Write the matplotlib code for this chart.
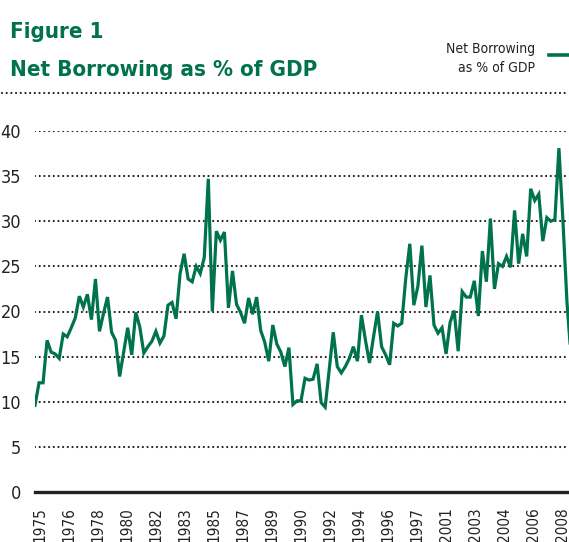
import numpy as np
import matplotlib
matplotlib.use('Agg')
import matplotlib.pyplot as plt
from matplotlib.lines import Line2D

# quarterly net borrowing, % of GDP
values = [9.6, 12.1, 12.1, 16.8, 15.5, 15.3, 14.8, 17.5, 17.2, 18.2,
          19.3, 21.7, 20.5, 21.9, 19.1, 23.6, 17.8, 19.8, 21.6, 17.7,
          16.8, 12.8, 15.5, 18.2, 15.2, 19.9, 18.3, 15.4, 16.1, 16.7,
          17.8, 16.5, 17.3, 20.7, 21.0, 19.2, 24.2, 26.4, 23.6, 23.3,
          25.0, 24.2, 26.0, 34.7, 20.0, 28.9, 27.9, 28.8, 20.4, 24.5,
          20.8, 19.9, 18.7, 21.5, 19.7, 21.6, 17.9, 16.6, 14.5, 18.5,
          16.4, 15.5, 13.9, 16.0, 9.7, 10.1, 10.1, 12.6, 12.4, 12.5,
          14.2, 9.9, 9.4, 13.5, 17.7, 13.9, 13.2, 13.9, 14.8, 16.1,
          14.5, 19.6, 16.8, 14.3, 17.2, 20.0, 16.1, 15.2, 14.1, 18.7,
          18.4, 18.7, 23.7, 27.5, 20.7, 22.8, 27.3, 20.5, 24.0, 18.5,
          17.6, 18.2, 15.3, 18.8, 20.1, 15.6, 22.2, 21.6, 21.6, 23.4,
          19.5, 26.7, 23.3, 30.3, 22.5, 25.3, 25.0, 26.1, 24.9, 31.2,
          25.3, 28.6, 26.1, 33.6, 32.3, 33.0, 27.8, 30.4, 30.0, 30.2,
          38.1, 30.0, 21.0, 15.0]
year_labels = ['1975', '1976', '1978', '1980', '1982', '1983', '1985', '1987',
               '1989', '1990', '1992', '1994', '1996', '1997', '2001', '2003',
               '2004', '2006', '2008']
y_ticks = [0, 5, 10, 15, 20, 25, 30, 35, 40]

green = '#00724e'
dark = '#222222'
plt.rcParams['font.family'] = ['DejaVu Sans']
plt.rcParams['font.stretch'] = 'condensed'

fig = plt.figure(figsize=(5.69, 5.42), dpi=100)
W, H = 569, 542
ax = fig.add_axes([35 / W, (H - 492) / H, 1 - 35 / W, 361 / H])

x = np.arange(len(values))
ax.set_xlim(0, 132.5)
ax.set_ylim(0, 40)

for v in y_ticks[1:]:
    ax.axhline(v, color=dark, lw=1.6, linestyle=(0, (0.01, 2.1)),
               dash_capstyle='round', zorder=1)
ax.axhline(0, color=dark, lw=2.4, zorder=2, clip_on=False)

ax.plot(x, values, color=green, lw=2.3, zorder=3, solid_joinstyle='miter')

for s in ax.spines.values():
    s.set_visible(False)
ax.set_yticks(y_ticks)
ax.set_yticklabels([str(v) for v in y_ticks], fontsize=13, color=dark)
ax.tick_params(axis='y', length=0, pad=10)
ax.set_xticks(np.linspace(1.2, 130.8, len(year_labels)))
ax.set_xticklabels(year_labels, rotation=90, fontsize=11, color=dark, va='top')
ax.tick_params(axis='x', length=0, pad=11)

# titles
fig.text(10 / W, 1 - 38 / H, 'Figure 1', color=green, fontsize=16,
         fontweight='bold', ha='left', va='baseline')
fig.text(10 / W, 1 - 76 / H, 'Net Borrowing as % of GDP', color=green,
         fontsize=16, fontweight='bold', ha='left', va='baseline')

# legend
fig.text(535 / W, 1 - 53 / H, 'Net Borrowing', color=dark, fontsize=10,
         ha='right', va='baseline')
fig.text(535 / W, 1 - 72 / H, 'as % of GDP', color=dark, fontsize=10,
         ha='right', va='baseline')
fig.add_artist(Line2D([549 / W, 1], [1 - 55 / H, 1 - 55 / H], color=green,
                      lw=2.6, transform=fig.transFigure))

# dotted separator under the title
fig.add_artist(Line2D([2 / W, 1], [1 - 93 / H, 1 - 93 / H], color=dark,
                      lw=1.6, linestyle=(0, (0.01, 2.1)), dash_capstyle='round',
                      transform=fig.transFigure))

fig.savefig('out.png', dpi=100)
